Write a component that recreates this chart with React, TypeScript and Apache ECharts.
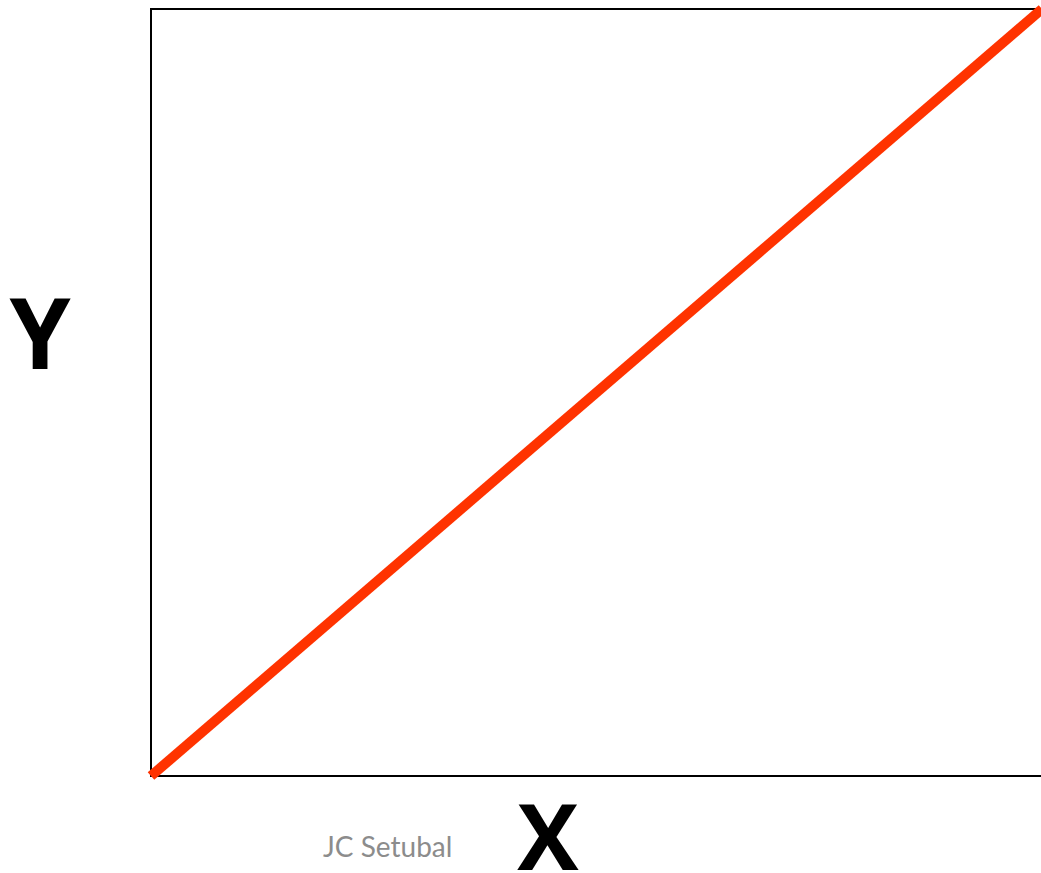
import React, { useEffect, useRef } from "react";
import * as echarts from "echarts";

const xValues = [0, 1];
const yValues = [0, 1];
const xLabel = "X";
const yLabel = "Y";
const credit = "JC Setubal";

export default function App() {
  const ref = useRef<HTMLDivElement>(null);
  useEffect(() => {
    if (!ref.current) return;
    const chart = echarts.init(ref.current, null, { renderer: "svg" });
    const data = xValues.map((x, i) => [x, yValues[i]]);
    chart.setOption({
      animation: false,
      backgroundColor: "#ffffff",
      grid: {
        left: 151,
        top: 9,
        width: 891,
        height: 767,
        show: true,
        borderColor: "#000000",
        borderWidth: 2,
        backgroundColor: "transparent",
      },
      xAxis: {
        type: "value",
        min: 0,
        max: 1,
        axisLine: { show: false },
        axisTick: { show: false },
        axisLabel: { show: false },
        splitLine: { show: false },
      },
      yAxis: {
        type: "value",
        min: 0,
        max: 1,
        axisLine: { show: false },
        axisTick: { show: false },
        axisLabel: { show: false },
        splitLine: { show: false },
      },
      series: [
        {
          type: "line",
          data,
          showSymbol: false,
          symbol: "none",
          clip: false,
          lineStyle: { color: "#ff3300", width: 10, cap: "butt" },
          z: 5,
        },
      ],
      graphic: [
        {
          type: "text",
          x: 40,
          y: 331,
          style: {
            text: yLabel,
            font: "bold 98px 'Open Sans', sans-serif",
            fill: "#000000",
            align: "center",
            verticalAlign: "middle",
          },
        },
        {
          type: "text",
          x: 548,
          y: 834,
          style: {
            text: xLabel,
            font: "bold 92px 'Open Sans', sans-serif",
            fill: "#000000",
            align: "center",
            verticalAlign: "middle",
          },
        },
        {
          type: "text",
          x: 323,
          y: 846,
          style: {
            text: credit,
            font: "28px Lato, 'Open Sans', sans-serif",
            fill: "#8c8c8c",
            align: "left",
            verticalAlign: "middle",
          },
        },
      ],
    });
    return () => chart.dispose();
  }, []);
  return (
    <div
      ref={ref}
      style={{ position: "absolute", left: 0, top: 0, width: 1060, height: 873 }}
    />
  );
}
